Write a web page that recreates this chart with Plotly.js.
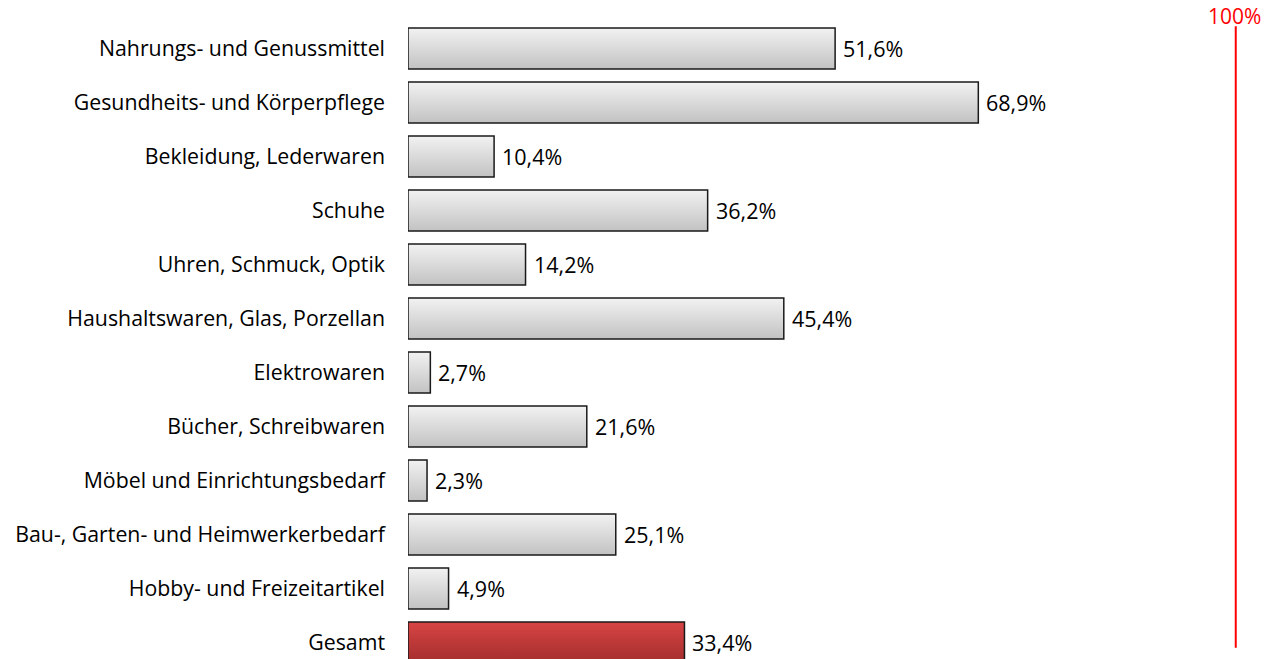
<!DOCTYPE html>
<html>
<head>
<meta charset="utf-8">
<script src="https://cdn.plot.ly/plotly-3.0.1.min.js"></script>
<style>
  html, body { margin: 0; padding: 0; background: #fff; }
  #plot { width: 1273px; height: 659px; }
</style>
</head>
<body>
<div id="plot"></div>
<script>
// Sortimentsbereiche und Anteile in %
const categories = [
  'Nahrungs- und Genussmittel',
  'Gesundheits- und Körperpflege',
  'Bekleidung, Lederwaren',
  'Schuhe',
  'Uhren, Schmuck, Optik',
  'Haushaltswaren, Glas, Porzellan',
  'Elektrowaren',
  'Bücher, Schreibwaren',
  'Möbel und Einrichtungsbedarf',
  'Bau-, Garten- und Heimwerkerbedarf',
  'Hobby- und Freizeitartikel',
  'Gesamt'
]
const values = [51.6, 68.9, 10.4, 36.2, 14.2, 45.4, 2.7, 21.6, 2.3, 25.1, 4.9, 33.4]
const refValue = 100
const refLabel = '100%'

const FONT = '"Open Sans", sans-serif'

const fmt = (v) => v.toFixed(1).replace('.', ',') + '%'

const trace = {
  type: 'bar',
  orientation: 'h',
  x: values,
  y: categories,
  width: 0.76,
  marker: {
    color: values.map((v, i) => i === values.length - 1 ? '#c03a3a' : '#dcdcdc'),
    line: { color: '#1a1a1a', width: 1.5 }
  },
  hoverinfo: 'x+y'
}

// value labels right of each bar
const labels = values.map((v, i) => ({
  x: v,
  y: categories[i],
  text: fmt(v),
  showarrow: false,
  xanchor: 'left',
  xshift: 6,
  font: { family: FONT, size: 21.5, color: '#000' }
}))

labels.push({
  x: refValue,
  xshift: -1,
  y: 0.952,
  yref: 'paper',
  text: refLabel,
  showarrow: false,
  yanchor: 'bottom',
  font: { family: FONT, size: 21, color: '#ff0000' }
})

const n = categories.length
Plotly.newPlot('plot', [trace], {
  width: 1273,
  height: 659,
  margin: { l: 408, r: 0, t: 0, b: 0 },
  paper_bgcolor: '#fff',
  plot_bgcolor: '#fff',
  showlegend: false,
  xaxis: {
    range: [0, 104.5],
    visible: false,
    showgrid: false,
    zeroline: false
  },
  yaxis: {
    type: 'category',
    categoryorder: 'array',
    categoryarray: categories,
    range: [n - 0.694, -0.898],
    showgrid: false,
    zeroline: false,
    showline: false,
    ticks: '',
    ticklabelstandoff: 22,
    tickfont: { family: FONT, size: 21.3, color: '#000' }
  },
  shapes: [{
    type: 'line',
    xref: 'x',
    yref: 'paper',
    x0: refValue, x1: refValue,
    y0: 0.017, y1: 0.96,
    line: { color: '#ff0000', width: 2 }
  }],
  annotations: labels
}, {
  displayModeBar: false
}).then(addGradients)

// Plotly has no gradient fill for bars, so patch the svg afterwards
function addGradients() {
  const svg = document.querySelector('#plot .main-svg')
  const ns = 'http://www.w3.org/2000/svg'
  const defs = document.createElementNS(ns, 'defs')
  const stops = {
    gradGray: ['#f2f2f2', '#c2c2c2'],
    gradRed: ['#d84444', '#a32d2d']
  }
  Object.keys(stops).forEach((id) => {
    const g = document.createElementNS(ns, 'linearGradient')
    g.setAttribute('id', id)
    g.setAttribute('x1', '0'); g.setAttribute('y1', '0')
    g.setAttribute('x2', '0'); g.setAttribute('y2', '1')
    stops[id].forEach((c, k) => {
      const s = document.createElementNS(ns, 'stop')
      s.setAttribute('offset', k === 0 ? '0' : '1')
      s.setAttribute('stop-color', c)
      g.appendChild(s)
    })
    defs.appendChild(g)
  })
  svg.insertBefore(defs, svg.firstChild)

  const paths = document.querySelectorAll('#plot .bars .point path')
  paths.forEach((p, i) => {
    const id = i === values.length - 1 ? 'gradRed' : 'gradGray'
    p.style.fill = 'url(#' + id + ')'
    p.style.fillOpacity = 1
  })
}
</script>
</body>
</html>
